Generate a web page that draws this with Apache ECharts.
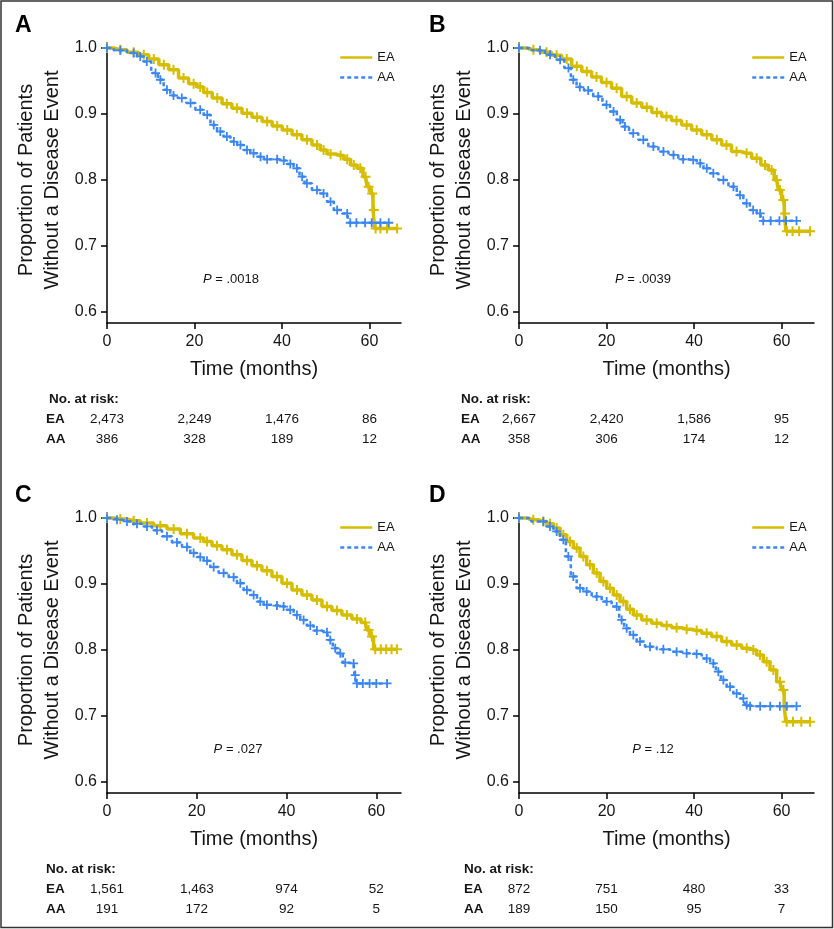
<!DOCTYPE html>
<html>
<head>
<meta charset="utf-8">
<script src="https://cdn.jsdelivr.net/npm/echarts@6.0.0/dist/echarts.min.js"></script>
<style>
html,body{margin:0;padding:0;background:#fff}
#chart{width:834px;height:929px}
</style>
</head>
<body>
<div id="chart"></div>
<script>
// ---- data: [months, proportion without event] ----
const panelNames = ["A", "B", "C", "D"];

const eaA = [[0,1.0],[3.05,0.9975],[6.1,0.9934],[8.4,0.9899],[10.7,0.9833],[13.0,0.9747],[15.2,0.9671],[17.5,0.9544],[19.8,0.9458],[21.3,0.9408],[22.9,0.9327],[25.2,0.9241],[27.4,0.9154],[29.7,0.9089],[32.0,0.9013],[34.3,0.8952],[36.6,0.8886],[38.9,0.882],[41.2,0.8759],[43.4,0.8684],[45.7,0.8608],[48.0,0.8532],[49.5,0.8456],[51.1,0.8395],[53.4,0.837],[54.9,0.8314],[56.4,0.8228],[57.9,0.8177],[59.1,0.8051],[59.8,0.7899],[60.6,0.7797],[61.0,0.7544],[61.4,0.7266],[62.5,0.7266],[64.0,0.7266],[66.3,0.7266]];
const aaA = [[0,1.0],[3.05,0.9965],[6.1,0.9924],[7.6,0.9873],[9.1,0.9797],[11.1,0.962],[12.2,0.9519],[13.7,0.9367],[15.2,0.9281],[17.1,0.9241],[19.1,0.9165],[21.3,0.9063],[22.9,0.8987],[24.4,0.8835],[25.9,0.8734],[27.4,0.8658],[29.0,0.8582],[30.5,0.8532],[32.0,0.8456],[33.5,0.8405],[35.1,0.8354],[36.6,0.8314],[38.9,0.8314],[40.4,0.8294],[41.9,0.8243],[43.4,0.8177],[44.6,0.8051],[45.7,0.7949],[48.0,0.7848],[49.5,0.7797],[51.1,0.7671],[52.6,0.7544],[54.9,0.7494],[55.6,0.7352],[57.0,0.7352],[59.0,0.7352],[60.5,0.7352],[62.5,0.7352],[64.4,0.7352]];

const eaB = [[0,1.0],[3.3,0.9975],[6.3,0.9934],[8.6,0.9889],[10.9,0.9833],[13.2,0.9722],[15.5,0.9646],[17.7,0.9559],[20.0,0.9478],[22.3,0.9392],[24.6,0.9266],[26.9,0.9165],[29.2,0.9104],[31.5,0.9023],[33.7,0.8962],[36.0,0.8901],[38.3,0.8835],[40.6,0.8759],[42.9,0.8684],[45.2,0.8608],[47.4,0.8532],[49.7,0.843],[52.0,0.8405],[54.3,0.8329],[56.2,0.8228],[57.7,0.8152],[58.9,0.8],[59.6,0.7848],[60.4,0.7696],[60.8,0.7494],[61.2,0.7225],[62.5,0.7225],[64.0,0.7225],[66.5,0.7225]];
const aaB = [[0,1.0],[4.8,0.9965],[7.1,0.9899],[9.4,0.9823],[11.3,0.9696],[12.4,0.9519],[13.9,0.9408],[15.8,0.9357],[18.1,0.9266],[20.0,0.9139],[21.6,0.9038],[23.1,0.8911],[24.2,0.881],[26.1,0.8709],[28.4,0.8608],[30.7,0.8506],[33.0,0.843],[35.3,0.838],[37.5,0.8314],[39.8,0.8304],[41.4,0.8253],[42.9,0.8177],[44.4,0.8101],[46.7,0.8],[49.0,0.7899],[50.5,0.7772],[52.0,0.7646],[53.5,0.7544],[55.1,0.7494],[55.8,0.7382],[57.5,0.7382],[59.5,0.7382],[61.0,0.7382],[63.4,0.7382]];

const eaC = [[0,1.0],[2.97,0.9985],[5.94,0.9959],[8.91,0.9924],[11.88,0.9884],[14.85,0.9833],[17.82,0.9762],[20.79,0.9696],[22.27,0.9646],[24.5,0.958],[26.73,0.9519],[28.95,0.9443],[31.18,0.9357],[33.41,0.9276],[35.63,0.92],[37.86,0.9114],[40.09,0.9013],[42.32,0.8911],[44.54,0.8835],[46.77,0.8759],[49.0,0.8658],[51.22,0.8597],[53.45,0.8532],[55.68,0.8468],[57.54,0.8415],[58.28,0.8304],[59.02,0.8203],[59.76,0.801],[61.0,0.801],[62.2,0.801],[63.4,0.801],[64.6,0.801]];
const aaC = [[0,1.0],[2.23,0.9975],[4.45,0.9949],[6.68,0.9914],[8.91,0.9873],[11.14,0.9813],[13.36,0.9722],[15.59,0.963],[17.82,0.9559],[19.3,0.9468],[20.79,0.9408],[22.27,0.9352],[23.76,0.9256],[25.98,0.9165],[28.21,0.9104],[29.7,0.9013],[31.18,0.8911],[32.67,0.8835],[34.16,0.8734],[35.63,0.8684],[37.86,0.8673],[39.35,0.8658],[40.83,0.8608],[42.32,0.8532],[43.8,0.8456],[45.29,0.837],[46.77,0.8294],[49.0,0.8268],[49.74,0.8152],[50.85,0.8025],[51.97,0.7949],[53.08,0.7808],[54.94,0.7797],[55.31,0.762],[55.68,0.7494],[57.0,0.7494],[58.5,0.7494],[60.0,0.7494],[62.4,0.7494]];

const eaD = [[0,1.0],[3.27,0.9975],[5.56,0.9949],[7.08,0.9914],[8.61,0.9848],[10.13,0.9747],[11.65,0.9646],[13.18,0.9544],[14.7,0.9418],[16.22,0.9291],[17.75,0.9165],[19.27,0.9038],[20.79,0.8937],[22.32,0.8835],[23.84,0.8734],[25.36,0.8618],[26.89,0.8532],[29.17,0.8456],[31.46,0.8405],[33.74,0.837],[36.02,0.8339],[38.31,0.8314],[40.59,0.8294],[42.88,0.8253],[45.16,0.8203],[47.45,0.8127],[49.73,0.8076],[52.02,0.8025],[53.54,0.8],[55.06,0.7924],[56.59,0.7823],[58.11,0.7696],[59.63,0.7519],[60.4,0.7392],[60.78,0.7139],[61.16,0.6911],[62.6,0.6911],[64.5,0.6911],[66.5,0.6911]];
const aaD = [[0,1.0],[5.56,0.9949],[7.08,0.9873],[8.61,0.9797],[10.13,0.9671],[11.27,0.9418],[12.41,0.9114],[13.94,0.8937],[15.46,0.8886],[17.75,0.881],[20.03,0.8734],[22.32,0.8658],[23.46,0.8456],[24.6,0.8329],[26.12,0.8228],[27.65,0.8127],[29.93,0.8051],[32.98,0.801],[36.02,0.7975],[38.31,0.7949],[40.59,0.7939],[42.88,0.7873],[44.4,0.7797],[45.54,0.7671],[46.69,0.7544],[48.21,0.7443],[49.73,0.7342],[51.26,0.7266],[52.02,0.7165],[52.8,0.7149],[55.1,0.7149],[57.4,0.7149],[59.6,0.7149],[61.2,0.7149],[63.4,0.7149]];

const eaSeries = [eaA, eaB, eaC, eaD];
const aaSeries = [aaA, aaB, aaC, aaD];

const pValues = [".0018", ".0039", ".027", ".12"];

// number at risk at these months
const riskTimes = [0, 20, 40, 60];
const riskEA = [[2473, 2249, 1476, 86], [2667, 2420, 1586, 95], [1561, 1463, 974, 52], [872, 751, 480, 33]];
const riskAA = [[386, 328, 189, 12], [358, 306, 174, 12], [191, 172, 92, 5], [189, 150, 95, 7]];

const xTicks = [0, 20, 40, 60];
const yTicks = [0.6, 0.7, 0.8, 0.9, 1.0];

// ---- layout ----
const layout = [
    {left: 107, top: 43, width: 294, xMax: 67.2, pX: 231, letterX: 15, noteX: 49, rowX: 46},
    {left: 519, top: 43, width: 295, xMax: 67.4, pX: 643, letterX: 429, noteX: 461, rowX: 461},
    {left: 107, top: 513, width: 294, xMax: 65.5, pX: 238, letterX: 15, noteX: 46, rowX: 46},
    {left: 519, top: 513, width: 295, xMax: 67.4, pX: 653, letterX: 429, noteX: 464, rowX: 464}
];
const plotH = 280;
const yMin = 0.5833, yMax = 1.0076;

const gold = "#d6bd00";
const blue = "#3a86f2";
const ink = "#151515";
const font = "'Liberation Sans', Arial, Helvetica, sans-serif";
const plus = "path://M4,0L6,0L6,4L10,4L10,6L6,6L6,10L4,10L4,6L0,6L0,4L4,4Z";

let chart = echarts.init(document.getElementById("chart"), null, {renderer: "canvas"});

let grids = [], xAxes = [], yAxes = [], series = [], legends = [];
layout.forEach((L, i) => {
    grids.push({left: L.left, top: L.top, width: L.width, height: plotH});
    xAxes.push({
        gridIndex: i, type: "value", min: 0, max: L.xMax,
        axisLine: {show: true, onZero: false, lineStyle: {color: "#000", width: 1.5}},
        axisTick: {show: true, length: 6, customValues: xTicks, lineStyle: {color: "#000", width: 1.5}},
        axisLabel: {customValues: xTicks, fontSize: 16, color: ink, margin: 11, fontFamily: font},
        splitLine: {show: false},
        name: "Time (months)", nameLocation: "middle", nameGap: 36,
        nameTextStyle: {fontSize: 20, color: ink, fontFamily: font}
    });
    yAxes.push({
        gridIndex: i, type: "value", min: yMin, max: yMax,
        axisLine: {show: true, onZero: false, lineStyle: {color: "#000", width: 1.5}},
        axisTick: {show: true, length: 6, customValues: yTicks, lineStyle: {color: "#000", width: 1.5}},
        axisLabel: {customValues: yTicks, fontSize: 16, color: ink, margin: 10, fontFamily: font,
            formatter: v => v.toFixed(1)},
        splitLine: {show: false}
    });
    series.push(
        {type: "line", name: "EA", xAxisIndex: i, yAxisIndex: i, data: eaSeries[i], step: "middle",
            symbol: "none", lineStyle: {color: gold, width: 3.5}, itemStyle: {color: gold}, z: 2},
        {type: "scatter", name: "EA censored", xAxisIndex: i, yAxisIndex: i, data: eaSeries[i],
            symbol: plus, symbolSize: 10, itemStyle: {color: gold, opacity: 1}, z: 2},
        {type: "line", name: "AA", xAxisIndex: i, yAxisIndex: i, data: aaSeries[i], step: "middle",
            symbol: "none", lineStyle: {color: blue, width: 2.5, type: [4, 3]}, itemStyle: {color: blue}, z: 3},
        {type: "scatter", name: "AA censored", xAxisIndex: i, yAxisIndex: i, data: aaSeries[i],
            symbol: plus, symbolSize: 9, itemStyle: {color: blue, opacity: 1}, z: 3}
    );
    legends.push({
        data: ["EA", "AA"], orient: "vertical", left: L.left + 227, top: L.top + 3,
        itemWidth: 32, itemHeight: 14, itemGap: 7, selectedMode: false,
        itemStyle: {opacity: 0, borderWidth: 0},
        lineStyle: {width: 2.5},
        textStyle: {fontSize: 13, color: ink, fontFamily: font}
    });
});

chart.setOption({
    animation: false,
    backgroundColor: "#fff",
    grid: grids,
    xAxis: xAxes,
    yAxis: yAxes,
    legend: legends,
    series: series
});

// text pieces placed after the axes exist
let graphics = [{
    type: "rect", shape: {x: 1, y: 1, width: 831.5, height: 926.5},
    style: {fill: "none", stroke: "#333", lineWidth: 1.5}, silent: true
}];
const fmt = n => n.toLocaleString("en-US");
layout.forEach((L, i) => {
    let base = L.top + plotH;
    graphics.push({
        type: "text", x: L.letterX, y: L.top - 17,
        style: {text: panelNames[i], fontSize: 23, fontWeight: "bold", fill: "#000", fontFamily: font,
            align: "left", verticalAlign: "middle"}
    });
    graphics.push({
        type: "text", x: L.left - 68, y: L.top + 137, rotation: Math.PI / 2,
        style: {text: "Proportion of Patients\nWithout a Disease Event", fontSize: 20, lineHeight: 26,
            fill: ink, fontFamily: font, align: "center", verticalAlign: "middle"}
    });
    graphics.push({
        type: "text", x: L.pX, y: L.top + 236,
        style: {text: "{i|P} = " + pValues[i], fontSize: 13, fill: ink, fontFamily: font,
            align: "center", verticalAlign: "middle",
            rich: {i: {fontStyle: "italic", fontSize: 13, fill: ink, fontFamily: font}}}
    });
    graphics.push({
        type: "text", x: L.noteX, y: base + 76,
        style: {text: "No. at risk:", fontSize: 13.5, fontWeight: "bold", fill: ink, fontFamily: font,
            align: "left", verticalAlign: "middle"}
    });
    [["EA", riskEA[i]], ["AA", riskAA[i]]].forEach((row, r) => {
        let y = base + 96 + r * 20;
        graphics.push({
            type: "text", x: L.rowX, y: y,
            style: {text: row[0], fontSize: 13.5, fontWeight: "bold", fill: ink, fontFamily: font,
                align: "left", verticalAlign: "middle"}
        });
        riskTimes.forEach((t, k) => {
            let px = chart.convertToPixel({xAxisIndex: i}, t);
            graphics.push({
                type: "text", x: px, y: y,
                style: {text: fmt(row[1][k]), fontSize: 13.5, fill: ink, fontFamily: font,
                    align: "center", verticalAlign: "middle"}
            });
        });
    });
});

chart.setOption({graphic: graphics});
</script>
</body>
</html>
